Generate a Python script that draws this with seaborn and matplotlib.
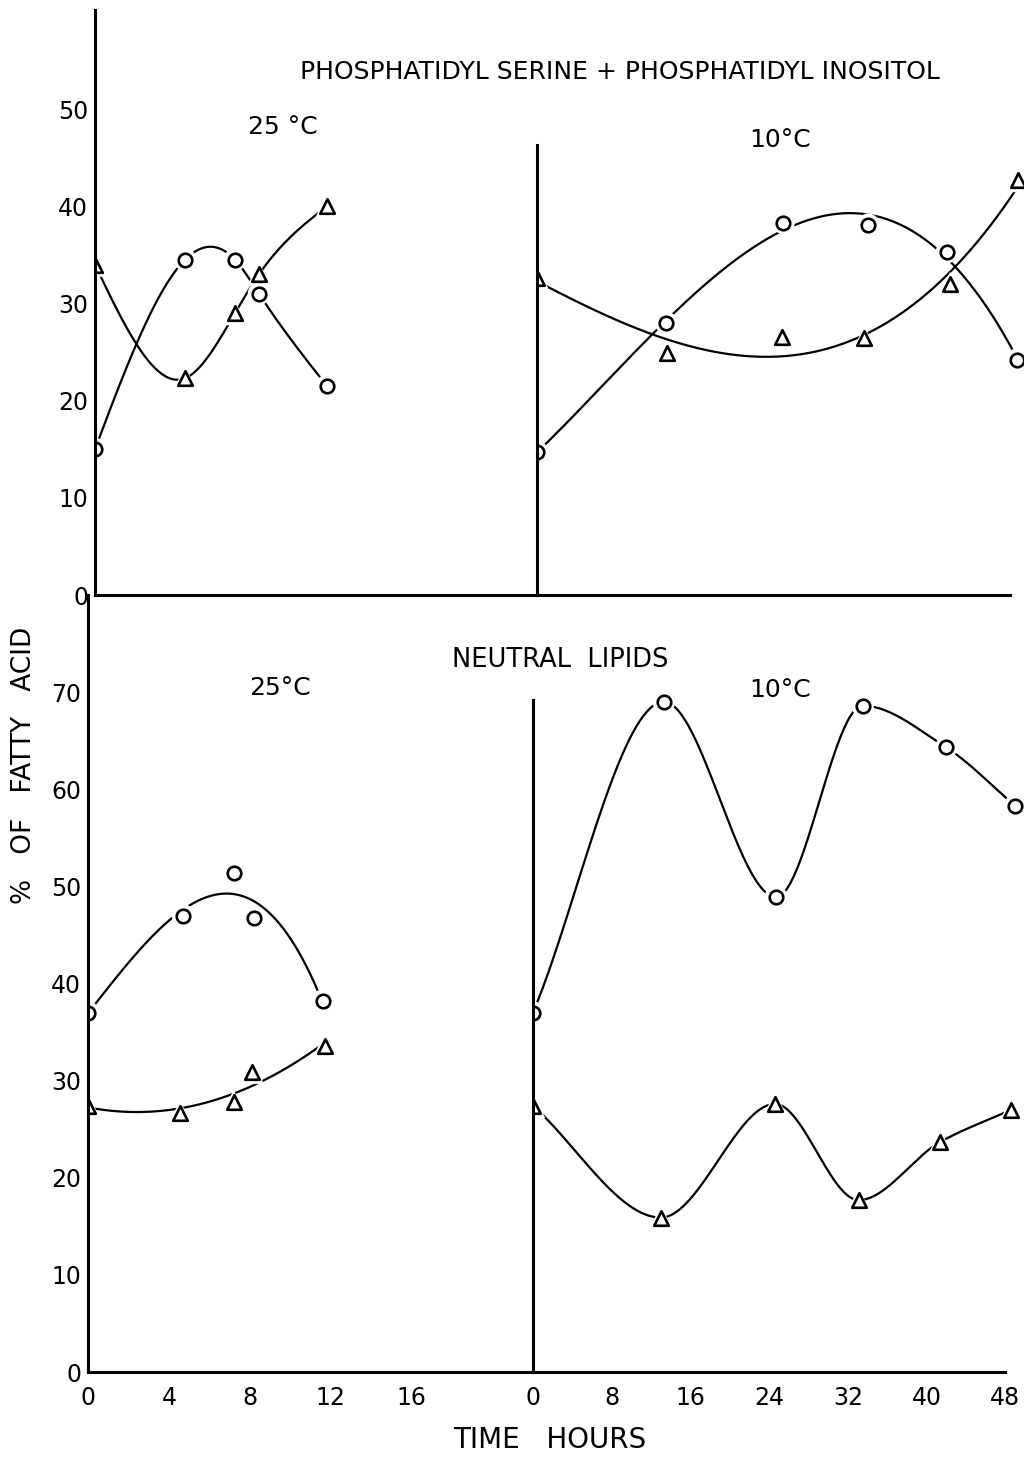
import numpy as np
import pandas as pd
import seaborn as sns
import matplotlib.pyplot as plt

# --- data (time in hours, % of fatty acid) ---
# top: phosphatidyl serine + phosphatidyl inositol
ps25_circ_t = [0, 4.5, 7.0, 8.2, 11.6]
ps25_circ_v = [15.0, 34.5, 34.5, 31.0, 21.5]
ps25_tri_t = [0, 4.5, 7.0, 8.2, 11.6]
ps25_tri_v = [34.0, 22.3, 29.0, 33.0, 40.0]
ps10_circ_t = [0, 13.1, 25.0, 33.6, 41.6, 48.7]
ps10_circ_v = [14.7, 28.0, 38.3, 38.1, 35.3, 24.2]
ps10_tri_t = [0, 13.2, 24.9, 33.2, 41.9, 48.8]
ps10_tri_v = [32.6, 24.9, 26.6, 26.4, 32.0, 42.7]
# bottom: neutral lipids
nl25_circ_t = [0, 4.7, 7.2, 8.2, 11.6]
nl25_circ_v = [37.0, 47.0, 51.4, 46.7, 38.2]
nl25_tri_t = [0, 4.55, 7.2, 8.1, 11.7]
nl25_tri_v = [27.4, 26.7, 27.8, 30.9, 33.6]
nl10_circ_t = [0, 13.3, 24.7, 33.5, 42.0, 49.0]
nl10_circ_v = [37.0, 69.0, 48.9, 68.6, 64.3, 58.3]
nl10_tri_t = [0, 13.0, 24.6, 33.1, 41.4, 48.6]
nl10_tri_v = [27.4, 15.9, 27.6, 17.7, 23.7, 27.0]

W, H = 1024, 1459
sns.set_style("white")
plt.rcParams["font.family"] = ["DejaVu Sans"]


def spline(t, v, n=300):
    # natural cubic spline through the points
    t = np.asarray(t, float)
    v = np.asarray(v, float)
    k = len(t)
    h = np.diff(t)
    A = np.zeros((k, k))
    b = np.zeros(k)
    A[0, 0] = A[-1, -1] = 1
    for i in range(1, k - 1):
        A[i, i - 1] = h[i - 1]
        A[i, i] = 2 * (h[i - 1] + h[i])
        A[i, i + 1] = h[i]
        b[i] = 3 * ((v[i + 1] - v[i]) / h[i] - (v[i] - v[i - 1]) / h[i - 1])
    c = np.linalg.solve(A, b)
    xs = np.linspace(t[0], t[-1], n)
    idx = np.clip(np.searchsorted(t, xs) - 1, 0, k - 2)
    dx = xs - t[idx]
    hh = h[idx]
    bb = (v[idx + 1] - v[idx]) / hh - hh * (2 * c[idx] + c[idx + 1]) / 3
    d = (c[idx + 1] - c[idx]) / (3 * hh)
    return xs, v[idx] + bb * dx + c[idx] * dx ** 2 + d * dx ** 3


def pchip(t, v, n=300):
    # shape preserving cubic through the points (no overshoot)
    t = np.asarray(t, float)
    v = np.asarray(v, float)
    h = np.diff(t)
    dl = np.diff(v) / h
    m = np.zeros_like(v)
    for i in range(1, len(t) - 1):
        if dl[i - 1] * dl[i] > 0:
            w1 = 2 * h[i] + h[i - 1]
            w2 = h[i] + 2 * h[i - 1]
            m[i] = (w1 + w2) / (w1 / dl[i - 1] + w2 / dl[i])
    m[0] = dl[0]
    m[-1] = dl[-1]
    xs = np.linspace(t[0], t[-1], n)
    idx = np.clip(np.searchsorted(t, xs) - 1, 0, len(t) - 2)
    hh = h[idx]
    s = (xs - t[idx]) / hh
    h00 = 2 * s ** 3 - 3 * s ** 2 + 1
    h10 = s ** 3 - 2 * s ** 2 + s
    h01 = -2 * s ** 3 + 3 * s ** 2
    h11 = s ** 3 - s ** 2
    ys = h00 * v[idx] + h10 * hh * m[idx] + h01 * v[idx + 1] + h11 * hh * m[idx + 1]
    return xs, ys


def fitted(t, v, deg, n=300):
    # smooth trend curve (least squares polynomial)
    xs = np.linspace(min(t), max(t), n)
    return xs, np.polyval(np.polyfit(t, v, deg), xs)


def series(ax, t, v, marker, how="spline"):
    if how == "spline":
        xs, ys = spline(t, v)
    elif how == "pchip":
        xs, ys = pchip(t, v)
    else:
        xs, ys = fitted(t, v, how)
    sns.lineplot(x=xs, y=ys, ax=ax, color="black", lw=1.6, sort=False,
                 estimator=None, zorder=2)
    df = pd.DataFrame({"t": t, "v": v})
    size = 95 if marker == "o" else 110
    sns.scatterplot(data=df, x="t", y="v", ax=ax, marker=marker, s=size * 2.8,
                    color="white", edgecolor="none", zorder=3)
    sns.scatterplot(data=df, x="t", y="v", ax=ax, marker=marker, s=size,
                    facecolor="white", edgecolor="black", linewidth=1.9,
                    zorder=4)


def make_ax(x0, y0, x1, y1):
    ax = fig.add_axes([x0 / W, 1 - y1 / H, (x1 - x0) / W, (y1 - y0) / H])
    ax.set_facecolor("none")
    for s in ("top", "right"):
        ax.spines[s].set_visible(False)
    for s in ("left", "bottom"):
        ax.spines[s].set_linewidth(2.2)
        ax.spines[s].set_color("black")
        ax.spines[s].set_zorder(5)
    ax.tick_params(direction="in", length=9, width=1.7, colors="black",
                   labelsize=17)
    return ax


fig = plt.figure(figsize=(W / 100, H / 100), dpi=100)

# top panel (25 C part, 10 C part)
ax1 = make_ax(95, 10, 537, 595)
ax2 = make_ax(537, 10, 1024, 595)
# bottom panel
ax3 = make_ax(88, 595, 533, 1372)
ax4 = make_ax(533, 595, 1024, 1372)

series(ax1, ps25_circ_t, ps25_circ_v, "o")
series(ax1, ps25_tri_t, ps25_tri_v, "^")
series(ax2, ps10_circ_t, ps10_circ_v, "o", how=3)
series(ax2, ps10_tri_t, ps10_tri_v, "^", how=3)
series(ax3, nl25_circ_t, nl25_circ_v, "o", how=3)
series(ax3, nl25_tri_t, nl25_tri_v, "^", how=2)
series(ax4, nl10_circ_t, nl10_circ_v, "o", how="pchip")
series(ax4, nl10_tri_t, nl10_tri_v, "^", how="pchip")

for ax in (ax1, ax2, ax3, ax4):
    ax.set_xlabel("")
    ax.set_ylabel("")

ax1.set_xlim(0, 22.1)
ax1.set_ylim(0, 60.2)
ax1.set_xticks([4, 8, 12, 16])
ax1.set_xticklabels([])
ax1.set_yticks([0, 10, 20, 30, 40, 50])
ax1.tick_params(axis="y", pad=5)

ax2.set_xlim(0, 49.4)
ax2.set_ylim(0, 60.2)
ax2.set_xticks([8, 16, 24, 32, 40, 48])
ax2.set_xticklabels([])
ax2.set_yticks([])
ax2.spines["left"].set_bounds(0, 46.3)
ax2.spines["bottom"].set_bounds(0, 48)

ax3.set_xlim(0, 22.0)
ax3.set_ylim(0, 80.0)
ax3.set_xticks([0, 4, 8, 12, 16])
ax3.set_yticks([0, 10, 20, 30, 40, 50, 60, 70])
ax3.tick_params(axis="x", pad=10)
ax3.tick_params(axis="y", pad=5)

ax4.set_xlim(0, 49.9)
ax4.set_ylim(0, 80.0)
ax4.set_xticks([0, 8, 16, 24, 32, 40, 48])
ax4.set_yticks([])
ax4.tick_params(axis="x", pad=10)
ax4.spines["left"].set_bounds(0, 69.2)
ax4.spines["bottom"].set_bounds(0, 48)


def label(x, y, s, size=18, **kw):
    fig.text(x / W, 1 - y / H, s, fontsize=size, ha="center", va="center",
             color="black", **kw)


label(620, 72, "PHOSPHATIDYL SERINE + PHOSPHATIDYL INOSITOL", 18)
label(283, 127, "25 °C")
label(780, 140, "10°C")
label(560, 660, "NEUTRAL  LIPIDS", 18.5)
label(280, 688, "25°C")
label(780, 690, "10°C")
label(24, 765, "%   OF   FATTY   ACID", 19, rotation=90)
label(550, 1440, "TIME   HOURS", 20)

fig.savefig("out.png", dpi=100)
